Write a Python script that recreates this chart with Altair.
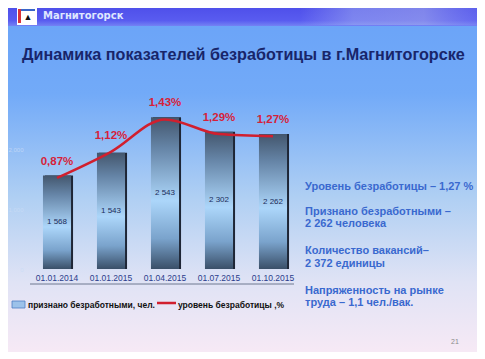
import altair as alt
import pandas as pd

# ---- data ----
dates = ["01.01.2014", "01.01.2015", "01.04.2015", "01.07.2015", "01.10.2015"]
unemployed = [1568, 1948, 2543, 2302, 2262]          # bar heights as drawn
unemployed_labels = ["1 568", "1 543", "2 543", "2 302", "2 262"]
rate = [0.87, 1.12, 1.43, 1.29, 1.27]
rate_labels = ["0,87%", "1,12%", "1,43%", "1,29%", "1,27%"]
y_ticks = [0, 1000, 2000]
header_text = "Магнитогорск"
title_text = "Динамика показателей безработицы в г.Магнитогорске"
side_text = [
    "Уровень безработицы – 1,27 %",
    "Признано безработными –",
    "2 262 человека",
    "Количество вакансий–",
    "2 372 единицы",
    "Напряженность на рынке",
    "труда – 1,1 чел./вак.",
]
legend_labels = ["признано безработными, чел.", "уровень безработицы ,%"]
page_number = "21"

df = pd.DataFrame({
    "date": dates,
    "value": unemployed,
    "vlabel": unemployed_labels,
    "pct": rate,
    "plabel": rate_labels,
})

# plot origin in page pixels
OX, OY = 30, 90
one = pd.DataFrame({"a": [0]})
FONT = "Liberation Sans"


def box(x0, y0, x1, y1, **kw):
    return alt.Chart(one).mark_rect(**kw).encode(
        x=alt.value(x0 - OX), x2=alt.value(x1 - OX),
        y=alt.value(y0 - OY), y2=alt.value(y1 - OY))


def txt(text, px, py, **kw):
    kw.setdefault("font", FONT)
    kw.setdefault("baseline", "middle")
    return alt.Chart(one).mark_text(text=text, **kw).encode(
        x=alt.value(px - OX), y=alt.value(py - OY))


def vgrad(stops):
    return alt.Gradient(gradient="linear", x1=0, y1=0, x2=0, y2=1,
                        stops=[alt.GradientStop(color=c, offset=o) for o, c in stops])


def hgrad(stops):
    return alt.Gradient(gradient="linear", x1=0, y1=0, x2=1, y2=0,
                        stops=[alt.GradientStop(color=c, offset=o) for o, c in stops])


background = box(8, 8, 477, 351, color=vgrad([
    (0.0, "#6aa3f8"), (0.25, "#72aaf8"), (0.55, "#afcff3"),
    (0.8, "#e0e3f5"), (1.0, "#f6e9f5")]))
header = box(8, 8, 477, 26, color=vgrad([(0, "#4f50ea"), (0.7, "#595cf0"), (1, "#7482f4")]))
header_map = box(300, 8, 477, 25, color=hgrad([(0, "rgba(170,180,240,0)"), (0.3, "rgba(170,185,240,0.45)"),
                                               (0.7, "rgba(175,185,235,0.5)"), (1, "rgba(150,160,240,0.2)")]))
logo = box(17, 7, 37, 25, color="#ffffff")
logo_red = box(18, 9, 21, 23, color="#d8323a")
logo_blue = box(21, 9, 35, 11, color="#3a66c8")
logo_mark = txt("▲", 28, 17, fontSize=9, color="#111111", align="center")
header_label = txt(header_text, 43, 16, font="DejaVu Sans", fontSize=10, fontWeight="bold",
                   color="#dfe6ff", align="left")
title = txt(title_text, 22, 55, fontSize=16.2, fontWeight="bold", color="#18256a", align="left")

x_enc = alt.X("date:N", sort=dates,
              scale=alt.Scale(paddingInner=0.48, paddingOuter=0.24),
              axis=alt.Axis(title=None, domain=False, ticks=False, labelAngle=0, zindex=1,
                            labelFont=FONT, labelFontSize=8.5, labelColor="#2b3d8c",
                            labelPadding=4))
y_bar = alt.Y("value:Q", scale=alt.Scale(domain=[0, 3000]),
              axis=alt.Axis(title=None, values=y_ticks, domain=False, ticks=False, grid=False, zindex=1,
                            labelColor="#c9dcf6", labelOpacity=0.8, labelFontSize=6, labelPadding=7,
                            labelFont=FONT))

base = alt.Chart(df)
bar_shadow = base.mark_bar(color="#1e2636", xOffset=2).encode(
    x=x_enc, y=alt.Y("value:Q", scale=alt.Scale(domain=[0, 3000]), axis=None))
bars = base.mark_bar(color=vgrad([
    (0.0, "#43566d"), (0.2, "#6584a6"), (0.55, "#acd6fa"), (0.8, "#7aa3cc"), (1.0, "#3a4f68")])).encode(
    x=x_enc, y=y_bar)
bar_labels = base.transform_calculate(half="datum.value / 2").mark_text(
    font=FONT, fontSize=8, color="#1b2d5c", baseline="middle").encode(
    x=alt.X("date:N", sort=dates), y=alt.Y("half:Q", scale=alt.Scale(domain=[0, 3000]), axis=None),
    text="vlabel:N")

y_pct = alt.Y("pct:Q", scale=alt.Scale(domain=[0, 1.711]), axis=None)
line = base.mark_line(color="#d11f2e", strokeWidth=2.5, interpolate="monotone").encode(
    x=alt.X("date:N", sort=dates), y=y_pct)
pct_labels = base.mark_text(font=FONT, fontSize=11.5, fontWeight="bold", color="#d61f3a", dy=-16).encode(
    x=alt.X("date:N", sort=dates), y=y_pct, text="plabel:N")

underline = alt.Chart(one).mark_rule(color="#6f7890", strokeWidth=1).encode(
    x=alt.value(30 - OX), x2=alt.value(294 - OX), y=alt.value(284 - OY))

side_y = [187, 212, 224, 251, 264, 291, 303]
side = [txt(t, 305, yy, fontSize=11, fontWeight="bold", color="#3a69cf", align="left")
        for t, yy in zip(side_text, side_y)]

leg_box = box(12, 301, 25, 308, color="#9cc2ea", stroke="#4f7fc4", strokeWidth=0.8)
leg_t1 = txt(legend_labels[0], 28, 305, fontSize=8.5, fontWeight="bold", color="#111111", align="left")
leg_line = alt.Chart(one).mark_rule(color="#d11f2e", strokeWidth=2.5).encode(
    x=alt.value(157 - OX), x2=alt.value(176 - OX), y=alt.value(303 - OY))
leg_t2 = txt(legend_labels[1], 178, 305, fontSize=8.5, fontWeight="bold", color="#111111", align="left")
pnum = txt(page_number, 455, 342, fontSize=7, color="#8a8a8a", align="center")

chart = alt.layer(
    background, header, header_map, logo, logo_red, logo_blue, logo_mark, header_label, title,
    bar_shadow, bars, bar_labels, line, pct_labels, underline,
    *side, leg_box, leg_t1, leg_line, leg_t2, pnum,
).resolve_scale(y="independent").properties(
    width=270, height=179,
    padding={"left": 22, "top": 82, "right": 177, "bottom": 83},
    autosize=alt.AutoSizeParams(type="none"),
).configure_view(stroke=None).configure(background="#f6e9f5")

chart.save("out.html", embed_options={"renderer": "svg", "actions": False})
